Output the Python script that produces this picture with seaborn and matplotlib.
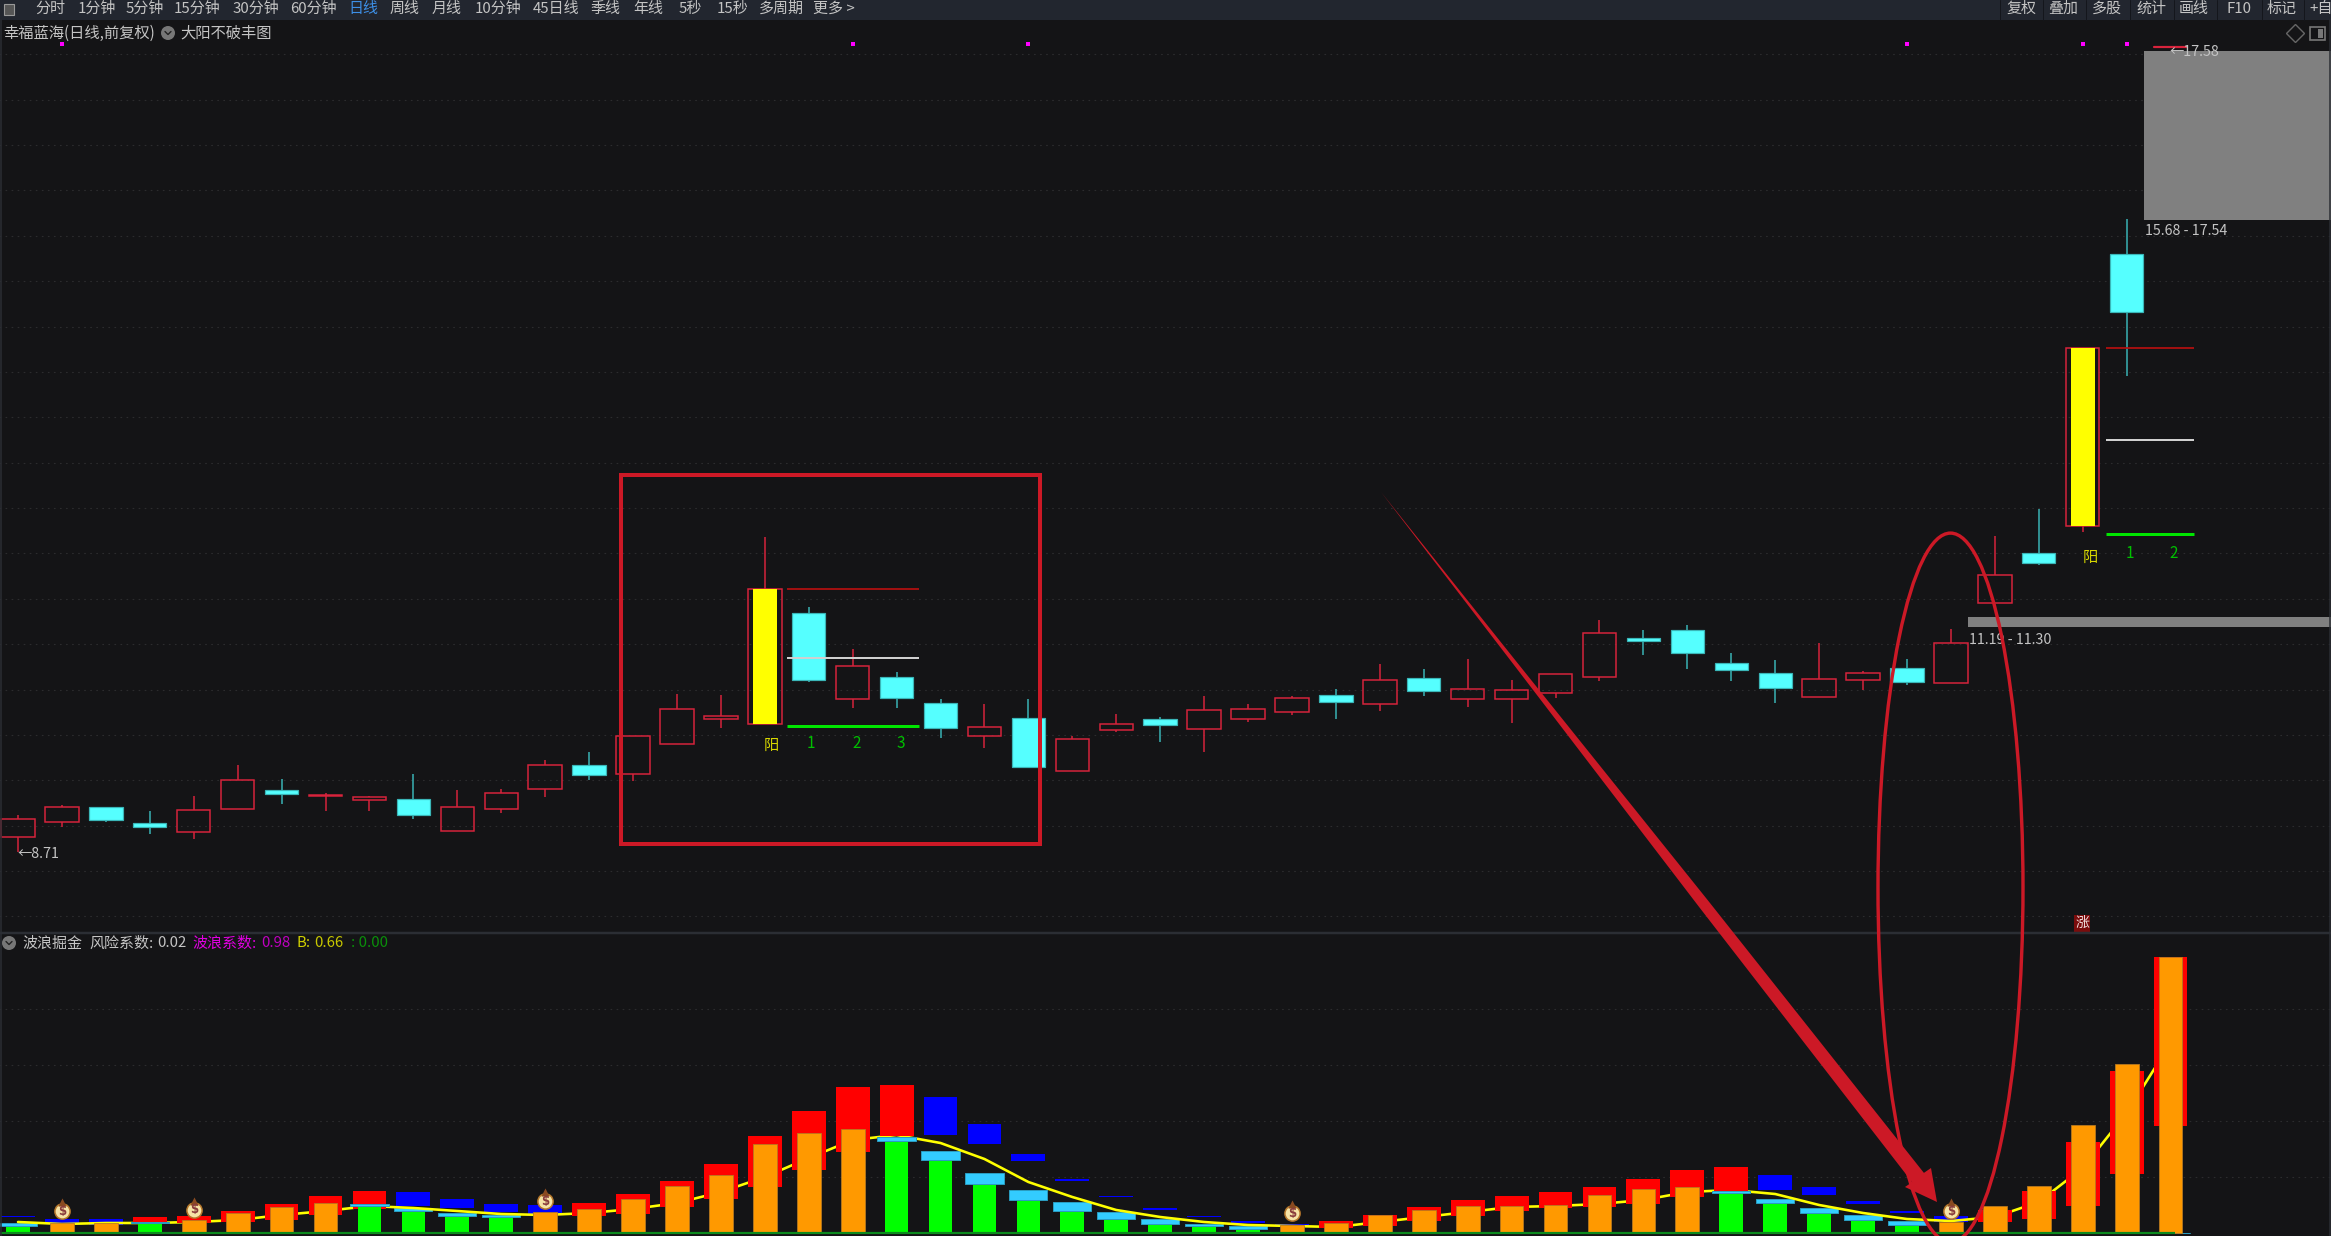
import numpy as np
import matplotlib
matplotlib.use("Agg")
import matplotlib.pyplot as plt
from matplotlib.patches import Rectangle, Ellipse, Polygon, Circle
import seaborn as sns

sns.set_theme(style="dark")
plt.rcParams['font.family'] = ['Noto Sans CJK SC', 'DejaVu Sans']
plt.rcParams['axes.unicode_minus'] = False

# ---------- price panel data ----------
price_high = [9.12,9.23,9.21,9.16,9.33,9.67,9.51,9.36,9.33,9.57,9.39,9.40,9.72,9.81,9.99,10.45,10.44,12.18,11.41,10.95,
              10.69,10.40,10.34,10.40,9.99,10.23,10.20,10.43,10.34,10.43,10.51,10.78,10.73,10.84,10.61,10.67,11.27,11.16,11.21,10.90,
              10.83,11.01,10.70,10.84,11.17,12.19,12.49,14.26,15.69,17.58]
body_top = [9.07,9.21,9.21,9.03,9.17,9.50,9.39,9.34,9.32,9.29,9.21,9.36,9.67,9.67,9.99,10.29,10.21,11.61,11.34,10.76,
            10.64,10.35,10.09,10.19,9.96,10.12,10.18,10.27,10.29,10.41,10.44,10.61,10.63,10.51,10.50,10.67,11.12,11.07,11.16,10.79,
            10.68,10.62,10.68,10.74,11.01,11.76,12.00,14.26,15.30,17.58]
body_bot = [8.88,9.04,9.06,8.99,8.93,9.18,9.35,9.33,9.28,9.12,8.94,9.18,9.40,9.56,9.57,9.90,10.18,10.12,10.61,10.40,
            10.41,10.08,9.99,9.65,9.60,10.05,10.11,10.07,10.18,10.25,10.36,10.34,10.48,10.40,10.40,10.46,10.64,11.04,10.90,10.72,
            10.52,10.42,10.61,10.58,10.57,11.45,11.90,12.30,14.66,17.58]
price_low = [8.71,8.99,9.04,8.91,8.85,9.18,9.24,9.16,9.16,9.07,8.94,9.14,9.32,9.50,9.49,9.90,10.08,10.12,10.58,10.30,
             10.30,9.97,9.86,9.65,9.60,10.03,9.92,9.81,10.14,10.22,10.18,10.26,10.43,10.31,10.13,10.41,10.59,10.88,10.73,10.59,
             10.35,10.42,10.50,10.55,10.57,11.45,11.87,12.24,13.96,17.58]
is_up = [1,1,0,0,1,1,0,1,1,0,1,1,1,0,1,1,1,1,0,1,
         0,0,1,0,1,1,0,1,1,1,0,1,0,1,1,1,1,0,0,0,
         0,1,1,0,1,1,0,1,0,1]
yang_idx = [17, 47]
signal_idx = [1, 19, 23, 43, 47, 48]
signal_price = 17.61
red_level = [11.61, 14.26]
white_level = [10.85, 13.25]
green_level = [10.10, 12.21]
zone_top = [15.68, 17.54]
zone_bottom = [11.19, 11.30]
grid_prices = [8.0,8.5,9.0,9.5,10.0,10.5,11.0,11.5,12.0,12.5,13.0,13.5,14.0,14.5,15.0,15.5,16.0,16.5,17.0,17.5]

# ---------- wave panel data ----------
bar_height = [7,10,10,10,13,20,26,30,27,22,17,16,21,24,34,47,58,89,100,104,
              92,73,49,33,22,14,9,7,4,8,10,18,23,27,27,28,38,44,46,40,
              30,20,13,8,11,27,47,108,169,276]
is_green = [1,0,0,1,0,0,0,0,1,1,1,1,0,0,0,0,0,0,0,0,
            1,1,1,1,1,1,1,1,1,0,0,0,0,0,0,0,0,0,0,1,
            1,1,1,1,0,0,0,0,0,0]
box_low = [16,10,8,9,10,11,13,18,24,27,25,21,18,17,19,26,34,46,63,81,
           97,98,89,72,52,36,23,16,10,7,5,7,12,17,22,25,26,29,36,42,
           43,38,29,20,11,11,14,27,59,107]
box_high = [17,14,14,16,17,22,29,37,42,41,34,29,28,30,39,52,69,97,122,146,
            148,136,109,79,54,37,25,17,12,9,12,18,26,33,37,41,46,54,63,66,
            58,46,32,22,17,23,42,91,162,276]
box_red = [0,0,0,1,1,1,1,1,1,0,0,0,0,1,1,1,1,1,1,1,
           1,0,0,0,0,0,0,0,0,0,1,1,1,1,1,1,1,1,1,1,
           0,0,0,0,0,1,1,1,1,1]
cap_high = [10,0,0,11,0,0,0,0,29,25,20,18,0,0,0,0,0,0,0,0,
            96,82,60,43,31,21,14,9,7,0,0,0,0,0,0,0,0,0,0,42,
            34,25,18,12,0,0,0,0,0,0]
wave_line = [11,9,10,10,11,13,18,22,27,25,22,19,18,20,24,30,41,56,75,93,
             98,90,74,51,36,23,16,11,8,7,6,11,16,21,26,27,29,33,41,43,
             39,28,20,14,12,16,31,65,120,190]
bag_idx = [1, 4, 12, 29, 44]
bag_level = [22, 23, 32, 20, 22]
wave_grid = [56, 112, 168, 224]

toolbar_left = ["分时","1分钟","5分钟","15分钟","30分钟","60分钟","日线","周线","月线","10分钟","45日线","季线","年线","5秒","15秒","多周期","更多 >"]
toolbar_right = ["复权","叠加","多股","统计","画线","F10","标记","+自"]

# ---------- styling constants ----------
W, H = 2331, 1236
BG = "#141416"
BAR = "#22262f"
IDX = np.arange(len(price_high))
STEP = 43.93
RED = "#d8233c"
CYAN = "#55ffff"
CYAN_W = "#3ab6b8"
ANN = "#cc1926"
GRID = "#2c2c2e"
TXT = "#c4c4c4"
px = 72 / 100  # points per pixel at 100 dpi

fig = plt.figure(figsize=(W / 100, H / 100), dpi=100, facecolor=BG)


def axes_for(top, bottom):
    return fig.add_axes([0, (H - bottom) / H, 1, (bottom - top) / H], facecolor=BG)


ax1 = axes_for(20, 933)
ax2 = axes_for(933, 1236)
ov = fig.add_axes([0, 0, 1, 1], facecolor="none", zorder=10)
ov.set_xlim(0, W)
ov.set_ylim(H, 0)
ov.axis("off")


def spans(ax, low, high, mask, **kw):
    low, high, mask = map(np.asarray, (low, high, mask))
    bottom = np.where(mask, low, 0.0)
    height = np.where(mask, high - low, 0.0)
    sns.barplot(x=IDX, y=height, bottom=bottom, native_scale=True, orient="x",
                errorbar=None, saturation=1, ax=ax, **kw)


# ---------- price panel ----------
up = np.array(is_up, bool)
hi, lo, top, bot = map(np.array, (price_high, price_low, body_top, body_bot))
ax1.hlines(grid_prices, -1, 60, colors=GRID, lw=1.1 * px, linestyles=(0, (1.5, 4)), zorder=1)

ax1.fill_between([48.4, 53], zone_top[0], zone_top[1], color="#808080", lw=0, zorder=2)
ax1.fill_between([44.4, 53], zone_bottom[0], zone_bottom[1], color="#808080", lw=0, zorder=2)

ax1.vlines(IDX[up], top[up], hi[up], colors=RED, lw=1.5 * px, zorder=3)
ax1.vlines(IDX[up], lo[up], bot[up], colors=RED, lw=1.5 * px, zorder=3)
ax1.vlines(IDX[~up], top[~up], hi[~up], colors=CYAN_W, lw=1.5 * px, zorder=3)
ax1.vlines(IDX[~up], lo[~up], bot[~up], colors=CYAN_W, lw=1.5 * px, zorder=3)

spans(ax1, bot, top, up, width=0.76, color=RED, fill=False, linewidth=1.5 * px, zorder=4)
spans(ax1, bot, top, ~up, width=0.76, color=CYAN, edgecolor=CYAN_W, linewidth=1.2 * px, zorder=4)
yang = np.isin(IDX, yang_idx)
spans(ax1, bot, top, yang, width=0.54, color="#ffff00", linewidth=0, zorder=5)

for k, (start, stop) in enumerate([(17.5, 20.5), (47.54, 49.54)]):
    ax1.hlines(red_level[k], start, stop, colors="#b01010", lw=1.8 * px, zorder=6)
    ax1.hlines(white_level[k], start, stop, colors="#d0d0d0", lw=2 * px, zorder=6)
    ax1.hlines(green_level[k], start, stop, colors="#00e600", lw=3 * px, zorder=6)

sns.scatterplot(x=signal_idx, y=[signal_price] * len(signal_idx), marker="s", s=12, color="#ff00ff",
                linewidth=0, ax=ax1, zorder=6)

ax1.set_xlim(-18 / STEP, (W - 18) / STEP)
ax1.set_ylim(8.71 + (852 - 933) * 0.01102, 8.71 + (852 - 20) * 0.01102)

# ---------- wave panel ----------
grn = np.array(is_green, bool)
redb = np.array(box_red, bool)
zero = np.zeros(len(IDX))
ax2.hlines(wave_grid, -1, 60, colors=GRID, lw=1.1 * px, linestyles=(0, (1.5, 4)), zorder=1)
spans(ax2, box_low, box_high, ~redb, width=0.77, color="#0000ff", linewidth=0, zorder=2)
spans(ax2, zero, bar_height, grn & ~redb, width=0.54, color="#00ff00", linewidth=0, zorder=2.5)
spans(ax2, bar_height, cap_high, grn & ~redb, width=0.87, color="#33ccff", edgecolor="#2a9cc0", linewidth=1 * px, zorder=2.6)
sns.lineplot(x=IDX, y=wave_line, color="#ffff00", lw=2.6 * px, ax=ax2, zorder=3, estimator=None)
spans(ax2, box_low, box_high, redb, width=0.77, color="#ff0000", linewidth=0, zorder=4)
spans(ax2, zero, bar_height, grn & redb, width=0.54, color="#00ff00", linewidth=0, zorder=5)
spans(ax2, bar_height, cap_high, grn & redb, width=0.87, color="#33ccff", edgecolor="#2a9cc0", linewidth=1 * px, zorder=5)
spans(ax2, zero, bar_height, ~grn, width=0.54, color="#ff9900", edgecolor="#b87a20", linewidth=0.8 * px, zorder=6)
ax2.hlines(0, -1, 49.1, colors="#0c8a1e", lw=2.2 * px, zorder=7)

sns.scatterplot(x=bag_idx, y=bag_level, marker="o", s=120, color="#f6e3a6", edgecolor="#b5762a", linewidth=1.1,
                ax=ax2, zorder=8)
sns.scatterplot(x=bag_idx, y=np.array(bag_level) + 9, marker="^", s=34, color="#8a4a20", linewidth=0, ax=ax2, zorder=8)
for bx, by in zip(bag_idx, bag_level):
    ax2.text(bx, by, "$", color="#8a3c3c", fontsize=8.5, fontweight="bold", ha="center", va="center",
             family="DejaVu Sans", zorder=9)
ax2.set_xlim(-18 / STEP, (W - 18) / STEP)
ax2.set_ylim(-3, 300)

for ax in (ax1, ax2):
    ax.set_xlabel("")
    ax.set_ylabel("")
    ax.set_xticks([])
    ax.set_yticks([])
    ax.grid(False)
    sns.despine(ax=ax, left=True, bottom=True)


# ---------- chrome and annotations (pixel overlay) ----------
def label(x, y, s, color=TXT, size=10.8, ha="left", **kw):
    ov.text(x, y, s, color=color, fontsize=size, ha=ha, va="center", **kw)


ov.add_patch(Rectangle((0, 0), W, 20, color=BAR, lw=0, zorder=1))
ov.add_patch(Rectangle((4, 4), 10, 11, fc="#555", ec="#999", lw=0.8, zorder=2))
x_left = [35, 78, 126, 174, 233, 290, 348, 390, 432, 475, 533, 590, 633, 679, 717, 759, 813]
for x, s in zip(x_left, toolbar_left):
    label(x, 9, s, color="#3d8fe6" if s == "日线" else TXT)
x_right = [2006, 2048, 2092, 2136, 2179, 2227, 2267, 2309]
for x, s in zip(x_right, toolbar_right):
    label(x, 9, s)
for x in [2000, 2043, 2086, 2130, 2174, 2217, 2262, 2304]:
    ov.plot([x, x], [0, 20], color="#14161c", lw=1 * px, zorder=2)

label(3, 33, "幸福蓝海(日线,前复权)", size=11)
ov.add_patch(Circle((168, 33), 7, color="#777777", lw=0))
ov.plot([165, 168, 171], [31.5, 34.5, 31.5], color="#222", lw=1)
label(180, 33, "大阳不破丰图", size=11)
ov.plot([2295], [33], marker="D", ms=9, mfc="none", mec="#666", mew=1)
ov.add_patch(Rectangle((2310, 27), 15, 13, fc="none", ec="#777", lw=1.2))
ov.add_patch(Rectangle((2318, 29), 5, 9, fc="#777", lw=0))

ov.plot([2154, 2187], [47, 47], color=RED, lw=2.2 * px, zorder=3)
label(2170, 52, "←17.58", size=10.3)
label(2145, 231, "15.68 - 17.54", size=10.3)
label(1969, 640, "11.19 - 11.30", size=10.3)
label(18, 854, "←8.71", size=10.3)

label(771, 745, "阳", color="#d8d800", ha="center", size=11)
for x, s in zip([811, 857, 901], ["1", "2", "3"]):
    label(x, 743, s, color="#00c000", ha="center", size=11)
label(2090, 557, "阳", color="#d8d800", ha="center", size=11)
for x, s in zip([2130, 2174], ["1", "2"]):
    label(x, 554, s, color="#00c000", ha="center", size=11)

# panel separator and borders
ov.plot([0, W], [933, 933], color="#2b2e34", lw=2.5 * px)
ov.plot([0.5, 0.5], [20, H], color="#2b2e34", lw=1.5 * px)
ov.plot([W - 1, W - 1], [20, H], color="#2b2e34", lw=1.5 * px)

# lower-panel header
ov.add_patch(Circle((9, 943), 7, color="#777777", lw=0))
ov.plot([6, 9, 12], [941.5, 944.5, 941.5], color="#222", lw=1)
label(22, 944, "波浪掘金")
label(89, 944, "风险系数:")
label(157, 943, "0.02")
label(192, 944, "波浪系数:", color="#e000e0")
label(261, 943, "0.98", color="#c000c0")
label(297, 943, "B:", color="#d0d000")
label(314, 943, "0.66", color="#c8c800")
label(351, 943, ": 0.00", color="#0a8f0a")

ov.add_patch(Rectangle((2074, 915), 16, 17, color="#7a0c0c", lw=0))
label(2082, 923, "涨", color="#f0e0e0", ha="center", size=10)

# hand-drawn red annotations
ov.add_patch(Rectangle((621, 475), 419, 369, fill=False, ec=ANN, lw=4 * px, zorder=20))
ov.add_patch(Ellipse((1950.5, 887.6), 145, 709, fill=False, ec=ANN, lw=3.4 * px, zorder=20))
start = np.array([1381.0, 492.0])
base = np.array([1918.0, 1177.5])
tip = np.array([1937.0, 1202.0])
d = (base - start) / np.linalg.norm(base - start)
n = np.array([-d[1], d[0]])
mid1 = start + 0.25 * (base - start)
mid2 = start + 0.6 * (base - start)
ov.add_patch(Polygon([start, mid1 + n * 2, mid2 + n * 5.5, base + n * 7.5, (1905, 1187), tip, (1931, 1168),
                      base - n * 7.5, mid2 - n * 5.5, mid1 - n * 2], closed=True, color=ANN, lw=0, zorder=21))

fig.savefig("out.png", dpi=100, facecolor=BG)
